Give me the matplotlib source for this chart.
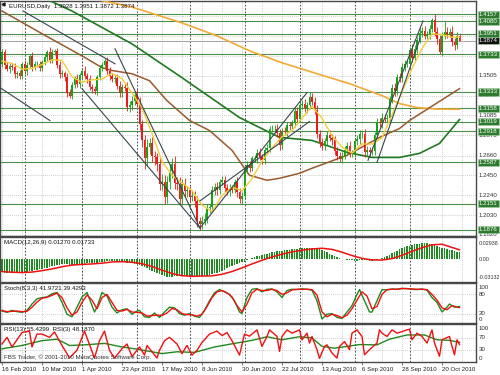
import numpy as np
import pandas as pd
import matplotlib
matplotlib.use("Agg")
import matplotlib.pyplot as plt
import matplotlib.transforms as mtransforms

plt.rcParams['font.family'] = ['Liberation Sans', 'DejaVu Sans']

# ---- EURUSD daily, 16 Feb 2010 .. 29 Oct 2010 ----
dates = pd.bdate_range("2010-02-16", periods=184)
first_open = 1.3630
closes = [
    1.3760, 1.3620, 1.3580, 1.3610, 1.3600, 1.3520, 1.3530, 1.3500, 1.3630, 1.3550,
    1.3620, 1.3710, 1.3600, 1.3630, 1.3630, 1.3590, 1.3650, 1.3700, 1.3760, 1.3670,
    1.3760, 1.3770, 1.3620, 1.3520, 1.3530, 1.3490, 1.3320, 1.3290, 1.3410, 1.3480,
    1.3420, 1.3510, 1.3560, 1.3500, 1.3470, 1.3390, 1.3360, 1.3340, 1.3490, 1.3590,
    1.3620, 1.3660, 1.3560, 1.3500, 1.3470, 1.3480, 1.3400, 1.3320, 1.3390, 1.3380,
    1.3170, 1.3200, 1.3240, 1.3300, 1.3210, 1.2990, 1.2820, 1.2630, 1.2750, 1.2790,
    1.2650, 1.2640, 1.2570, 1.2360, 1.2380, 1.2220, 1.2380, 1.2500, 1.2570, 1.2370,
    1.2360, 1.2200, 1.2360, 1.2280, 1.2290, 1.2220, 1.2230, 1.2180, 1.1970, 1.1930,
    1.1970, 1.1990, 1.2100, 1.2110, 1.2290, 1.2330, 1.2290, 1.2380, 1.2400, 1.2320,
    1.2280, 1.2310, 1.2300, 1.2380, 1.2270, 1.2200, 1.2230, 1.2520, 1.2560, 1.2530,
    1.2630, 1.2630, 1.2690, 1.2640, 1.2610, 1.2720, 1.2740, 1.2940, 1.2940, 1.2940,
    1.2900, 1.2770, 1.2920, 1.2910, 1.2980, 1.2970, 1.3000, 1.3130, 1.3050, 1.3190,
    1.3210, 1.3160, 1.3190, 1.3280, 1.3230, 1.3140, 1.2890, 1.2800, 1.2760, 1.2810,
    1.2880, 1.2850, 1.2820, 1.2710, 1.2660, 1.2620, 1.2660, 1.2720, 1.2760, 1.2680,
    1.2680, 1.2810, 1.2830, 1.2890, 1.2890, 1.2700, 1.2720, 1.2700, 1.2710, 1.2880,
    1.3020, 1.3000, 1.3060, 1.3050, 1.3060, 1.3260, 1.3380, 1.3340, 1.3490, 1.3480,
    1.3600, 1.3630, 1.3630, 1.3780, 1.3690, 1.3790, 1.3880, 1.3960, 1.3980, 1.3930,
    1.3940, 1.4000, 1.4100, 1.3970, 1.3890, 1.3760, 1.3930, 1.3970, 1.3950, 1.3970,
    1.3860, 1.3830, 1.3928, 1.3874]
# wick lengths above / below the body, in pips
upper_wick = [
    30, 25, 35, 30, 25, 40, 30, 35, 20, 40, 30, 25, 45, 30, 35, 30, 25, 30, 20, 45,
    25, 17, 30, 40, 35, 30, 45, 40, 30, 25, 40, 25, 30, 45, 35, 40, 30, 35, 20, 25,
    30, 30, 40, 35, 30, 35, 40, 45, 30, 35, 60, 40, 45, 30, 60, 70, 50, 60, 80, 60,
    70, 60, 50, 60, 80, 70, 60, 70, 60, 80, 60, 70, 50, 60, 45, 50, 60, 55, 50, 40,
    50, 60, 45, 40, 50, 40, 45, 35, 40, 45, 40, 45, 40, 35, 50, 45, 40, 30, 40, 45,
    30, 35, 40, 45, 35, 30, 40, 35, 45, 40, 50, 40, 35, 40, 35, 30, 40, 45, 40, 35,
    40, 45, 35, 53, 40, 50, 60, 45, 50, 40, 35, 45, 40, 50, 45, 40, 35, 40, 45, 50,
    40, 35, 45, 40, 35, 50, 40, 35, 45, 30, 40, 35, 45, 40, 35, 30, 40, 45, 35, 40,
    35, 45, 40, 30, 60, 40, 35, 45, 40, 50, 40, 45, 20, 57, 50, 45, 40, 110, 55, 40,
    60, 45, 40, 23]
lower_wick = [
    35, 40, 30, 45, 30, 35, 40, 30, 35, 30, 35, 30, 40, 35, 30, 40, 35, 30, 40, 35,
    30, 40, 35, 40, 30, 45, 40, 23, 35, 40, 30, 40, 35, 30, 45, 35, 40, 30, 40, 35,
    30, 40, 35, 45, 30, 40, 35, 40, 45, 35, 40, 45, 60, 50, 40, 60, 70, 110, 80, 70,
    60, 80, 70, 60, 70, 69, 60, 70, 80, 60, 70, 50, 60, 55, 60, 50, 45, 60, 70, 54,
    50, 45, 40, 45, 40, 50, 45, 40, 35, 45, 40, 45, 35, 40, 45, 40, 50, 30, 40, 45,
    35, 40, 45, 30, 40, 35, 40, 45, 35, 40, 45, 50, 40, 35, 40, 35, 30, 40, 45, 35,
    40, 35, 45, 40, 35, 45, 40, 50, 45, 40, 35, 40, 45, 40, 45, 33, 40, 35, 45, 40,
    35, 40, 35, 45, 40, 60, 40, 45, 35, 40, 35, 40, 45, 35, 40, 30, 40, 45, 35, 40,
    45, 40, 35, 40, 45, 35, 40, 30, 45, 40, 40, 45, 35, 40, 45, 27, 50, 40, 45, 35,
    40, 55, 45, 2]

# moving averages, sampled along the chart (bar index, price)
ma_fast_bar = [0, 4, 8, 12, 16, 20, 24, 28, 32, 36, 40, 44, 48, 52, 56, 60, 64, 68, 72, 76,
               80, 84, 88, 92, 96, 100, 104, 108, 112, 116, 120, 124, 128, 132, 136, 140,
               144, 148, 152, 156, 160, 164, 168, 172, 176, 180, 183]
ma_fast = [1.3660, 1.3634, 1.3574, 1.3583, 1.3623, 1.3674, 1.3666, 1.3494, 1.3435, 1.3461,
           1.3470, 1.3529, 1.3473, 1.3323, 1.3164, 1.2893, 1.2596, 1.2453, 1.2370, 1.2289,
           1.2134, 1.2068, 1.2236, 1.2326, 1.2286, 1.2415, 1.2601, 1.2739, 1.2859, 1.2924,
           1.3055, 1.3180, 1.3056, 1.2869, 1.2751, 1.2686, 1.2783, 1.2781, 1.2849, 1.3089,
           1.3333, 1.3580, 1.3793, 1.3948, 1.3940, 1.3913, 1.3914]
ma_brown_bar = [0, 16, 33, 40, 44, 52, 59, 66, 75, 83, 92, 99, 106, 111, 119, 124, 138, 151,
                159, 163, 183]
ma_brown = [1.4190, 1.3950, 1.3700, 1.3590, 1.3560, 1.3526, 1.3452, 1.3241, 1.3031, 1.2925,
            1.2715, 1.2451, 1.2398, 1.2419, 1.2472, 1.2525, 1.2662, 1.2852, 1.2946, 1.3031,
            1.3368]
ma_green_bar = [0, 15, 28, 52, 72, 95, 111, 124, 138, 148, 159, 167, 175, 183]
ma_green = [1.4450, 1.4350, 1.4190, 1.3842, 1.3484, 1.3062, 1.2852, 1.2820, 1.2693, 1.2640,
            1.2640, 1.2683, 1.2788, 1.3041]
ma_slow_bar = [0, 20, 40, 52, 72, 86, 99, 112, 126, 139, 152, 159, 166, 174, 183]
ma_slow = [1.4420, 1.4380, 1.4300, 1.4232, 1.4064, 1.3927, 1.3769, 1.3642, 1.3526, 1.3421,
           1.3294, 1.3210, 1.3168, 1.3152, 1.3150]

# trend lines: start bar, start price, end bar, end price
trend_x0 = [8.4, -0.8, 32.0, 45.2, 79.2, 79.2, 146.4, 150.0]
trend_y0 = [1.4190, 1.3379, 1.3368, 1.3790, 1.1892, 1.2180, 1.2609, 1.2588]
trend_x1 = [45.2, 19.2, 79.2, 79.2, 122.0, 123.0, 168.4, 167.2]
trend_y1 = [1.3631, 1.3030, 1.1892, 1.1892, 1.3326, 1.3020, 1.4085, 1.3895]

levels = [1.4157, 1.4080, 1.3951, 1.3733, 1.3333, 1.3158, 1.3019, 1.2918, 1.2587, 1.2151, 1.1876]
grid_prices = [1.1820, 1.2030, 1.2240, 1.2450, 1.2660, 1.2875, 1.3085, 1.3295, 1.3505,
               1.3715, 1.3925, 1.4135]
last_price = 1.3874

# MACD(12,26,9) main per bar, in 1e-4
macd_main = [
    -232, -234, -236, -237, -237, -236, -235, -233, -229, -225,
    -220, -213, -205, -196, -187, -178, -168, -158, -147, -136,
    -124, -112, -100, -92, -88, -86, -88, -92, -95, -94,
    -90, -85, -79, -74, -70, -67, -66, -65, -60, -54,
    -47, -40, -36, -34, -34, -36, -39, -42, -45, -48,
    -55, -62, -70, -78, -88, -100, -115, -135, -160, -185,
    -205, -225, -245, -265, -282, -296, -306, -313, -310, -303,
    -296, -291, -290, -291, -292, -293, -294, -296, -298, -302,
    -303, -298, -290, -278, -264, -250, -236, -222, -205, -185,
    -150, -132, -115, -98, -82, -66, -52, -38, -18, 2,
    20, 38, 54, 68, 82, 94, 106, 116, 126, 136,
    144, 150, 156, 162, 168, 174, 180, 186, 192, 198,
    203, 207, 210, 212, 212, 210, 205, 190, 170, 148,
    126, 104, 82, 62, 44, 28, 14, 2, -8, -14,
    -18, -20, -20, -18, -14, -14, -18, -20, -20, -16,
    -8, 4, 20, 40, 62, 86, 110, 134, 158, 182,
    200, 218, 234, 248, 260, 270, 278, 285, 291, 294,
    290, 282, 272, 259, 242, 224, 210, 198, 186, 174,
    162, 150, 139, 127]
macd_sig_bar = [0, 4, 8, 12, 16, 20, 24, 28, 32, 36, 40, 44, 48, 52, 56, 60, 64, 68, 72, 76,
                80, 84, 88, 92, 96, 100, 104, 108, 112, 116, 120, 124, 128, 132, 136, 140,
                144, 148, 152, 156, 160, 164, 168, 172, 176, 180, 183]
macd_sig = [-215, -228, -234, -225, -200, -168, -130, -100, -88, -80, -66, -45, -38, -50,
            -75, -125, -190, -250, -290, -300, -296, -292, -265, -215, -150, -80, -15, 45,
            95, 135, 165, 188, 200, 180, 130, 70, 20, -8, -10, 15, 75, 145, 210, 262, 272,
            215, 173]

# Stochastic(8,3,3)
stoch_k_bar = [0, 2, 4, 6, 8, 10, 12, 14, 16, 18, 20, 22, 24, 26, 28, 30, 32, 34, 36, 37,
               38, 40, 42, 44, 46, 48, 50, 52, 54, 55, 57, 59, 61, 63, 65, 67, 69, 71, 73, 75,
               77, 79, 81, 83, 85, 87, 89, 91, 93, 95, 96, 98, 100, 102, 104, 106, 108, 110,
               112, 114, 116, 118, 120, 122, 124, 126, 128, 130, 132, 134, 136, 138, 140,
               142, 143, 145, 147, 148, 150, 152, 154, 156, 158, 160, 162, 164, 166, 168,
               170, 172, 174, 176, 178, 179, 181, 183]
stoch_k = [28, 24, 30, 26, 24, 30, 50, 66, 70, 72, 82, 86, 55, 18, 10, 40, 72, 86, 45, 25,
           40, 86, 75, 40, 22, 32, 35, 18, 28, 30, 10, 8, 22, 8, 25, 40, 38, 20, 15, 20,
           12, 8, 30, 60, 85, 95, 88, 80, 60, 25, 20, 70, 96, 98, 88, 96, 97, 88,
           70, 92, 96, 95, 97, 96, 93, 60, 3, 18, 20, 8, 5, 25, 45,
           80, 95, 60, 25, 25, 60, 95, 94, 97, 96, 99, 98, 96, 95, 97,
           93, 70, 55, 25, 40, 50, 40, 42]
stoch_d_bar = [0, 2, 4, 6, 8, 10, 12, 14, 16, 18, 20, 22, 24, 26, 28, 30, 32, 34, 36, 38,
               40, 42, 44, 46, 48, 50, 52, 54, 56, 58, 60, 62, 64, 66, 68, 70, 72, 74, 76, 78,
               80, 82, 84, 86, 88, 90, 92, 94, 96, 98, 100, 102, 104, 106, 108, 110, 112,
               114, 116, 118, 120, 122, 124, 126, 128, 130, 132, 134, 136, 138, 140, 142,
               144, 146, 148, 150, 152, 154, 156, 158, 160, 162, 164, 166, 168, 170, 172,
               174, 176, 178, 180, 182, 183]
stoch_d = [30, 26, 27, 28, 26, 27, 40, 56, 68, 71, 77, 84, 70, 38, 15, 25, 55, 78, 62, 35,
           70, 80, 55, 30, 28, 33, 25, 24, 22, 12, 14, 15, 14, 22, 36, 32, 20, 17, 16, 12,
           18, 42, 70, 88, 92, 85, 72, 45, 25, 50, 85, 96, 92, 92, 96, 92, 80,
           85, 94, 96, 96, 96, 95, 78, 25, 10, 18, 14, 7, 15, 35, 62,
           88, 75, 35, 42, 80, 95, 96, 96, 98, 98, 97, 96, 96, 95, 80,
           62, 38, 32, 45, 40, 39]

# RSI(13) and RSI(3)
rsi13_bar = [0, 8, 16, 22, 27, 33, 41, 48, 53, 60, 64, 70, 77, 85, 93, 100, 106, 112, 119,
             124, 128, 133, 138, 143, 150, 155, 162, 169, 174, 179, 183]
rsi13 = [34, 45, 61, 66, 45, 47, 52, 40, 34, 24, 18, 24, 22, 40, 52, 62, 74, 64, 74,
         70, 42, 36, 42, 48, 47, 66, 80, 80, 64, 62, 55.4]
rsi3_bar = [0, 2, 4, 8, 11, 12, 14, 16, 19, 21, 24, 27, 30, 33, 37, 39, 41, 43, 45, 48,
            50, 52, 55, 57, 58, 62, 63, 65, 67, 70, 72, 74, 76, 78, 80, 83, 86, 88, 90, 92,
            95, 97, 99, 102, 104, 106, 107, 110, 111, 112, 114, 116, 119, 120, 122, 123,
            124, 126, 127, 129, 130, 132, 134, 135, 137, 139, 140, 142, 144, 145, 147, 150,
            151, 152, 154, 156, 158, 160, 162, 163, 164, 166, 168, 170, 172, 173, 175, 176,
            179, 180, 181, 182, 183]
rsi3 = [50, 72, 40, 88, 93, 40, 83, 83, 72, 90, 45, 4, 29, 93, 3, 61, 93, 29, 3, 34,
        50, 8, 40, 13, 45, 3, 29, 61, 72, 50, 18, 45, 13, 29, 55, 83, 93, 78, 88, 61,
        13, 83, 76, 97, 42, 75, 97, 75, 25, 75, 97, 86, 97, 64, 86, 53,
        75, 31, 2, 42, 47, 20, 3, 42, 58, 31, 86, 97, 75, 14, 31, 53,
        97, 86, 75, 97, 86, 91, 97, 99, 64, 86, 75, 53, 97, 53, 9, 64,
        75, 42, 14, 64, 48]

# ---------------- figure ----------------
closes = np.array(closes)
opens = np.r_[first_open, closes[:-1]]
highs = np.maximum(opens, closes) + np.array(upper_wick) * 1e-4
lows = np.minimum(opens, closes) - np.array(lower_wick) * 1e-4
bars = np.arange(len(closes))

fig = plt.figure(figsize=(5, 3.75), dpi=100)
W = 476 / 500
ax = fig.add_axes([0.0, 1 - 236 / 375, W, 235 / 375])
ax_macd = fig.add_axes([0.0, 1 - 282 / 375, W, 45 / 375])
ax_st = fig.add_axes([0.0, 1 - 323 / 375, W, 40 / 375])
ax_rsi = fig.add_axes([0.0, 1 - 362 / 375, W, 38 / 375])
panels = [ax, ax_macd, ax_st, ax_rsi]

FS = 4.4
GRID = '#b4b4b4'
LVL = '#4a8f4a'
BOXG = '#2e7a2e'

for a in panels:
    a.set_xlim(-0.8, 189.6)
    a.set_xticks([])
    a.set_yticks([])
    for s in a.spines.values():
        s.set_color('#484848')
        s.set_linewidth(1.0)
    # 8-bar grid and monthly period separators
    for b in range(0, 190, 8):
        a.axvline(b, color=GRID, lw=0.5, ls=(0, (1.2, 1.6)), zorder=0)
    for i in range(1, len(dates)):
        if dates[i].month != dates[i - 1].month:
            a.axvline(i, color='#303030', lw=0.6, ls=(0, (2, 2)), zorder=0.5)


def rlabel(a, y, s, box=None, color='#303030', fs=FS):
    tr = mtransforms.blended_transform_factory(a.transAxes, a.transData)
    if box:
        a.text(1.006, y, s, transform=tr, fontsize=fs, color='white', va='center',
               ha='left', zorder=10,
               bbox=dict(boxstyle='square,pad=0.18', fc=box, ec='#9fcf9f', lw=0.4))
    else:
        a.text(1.006, y, s, transform=tr, fontsize=fs, color=color, va='center',
               ha='left', zorder=5)


# --- main price panel ---
ax.set_ylim(1.1808, 1.4296)
boxed = levels + [last_price]
for p in grid_prices:
    ax.axhline(p, color=GRID, lw=0.5, ls=(0, (1.2, 1.6)), zorder=0)
    # the terminal hides scale labels that sit under a level box
    if min(abs(p - q) for q in boxed) > 0.0032:
        rlabel(ax, p, f"{p:.4f}")
for p in levels:
    ax.axhline(p, color=LVL, lw=0.8, zorder=1)
    rlabel(ax, p, f"{p:.4f}", box=BOXG)
ax.axhline(last_price, color='#a8a8a8', lw=0.8, zorder=1)
rlabel(ax, last_price, f"{last_price:.4f}", box='#101010')

ax.plot(ma_slow_bar, ma_slow, color='#f3a935', lw=1.2, zorder=3)
ax.plot(ma_green_bar, ma_green, color='#1f7a1f', lw=1.2, zorder=3)
ax.plot(ma_brown_bar, ma_brown, color='#9a5a2e', lw=1.1, zorder=3)

up = closes >= opens
col = np.where(up, '#18a018', '#f01818')
ax.vlines(bars, lows, highs, colors=col, lw=0.6, zorder=4)
ax.bar(bars, np.maximum(np.abs(closes - opens), 0.0003), bottom=np.minimum(opens, closes),
       width=0.72, color=col, lw=0, zorder=4)
ax.plot(ma_fast_bar, ma_fast, color='#f6cc3a', lw=1.0, zorder=5)

for x0, y0, x1, y1 in zip(trend_x0, trend_y0, trend_x1, trend_y1):
    ax.plot([x0, x1], [y0, y1], color='#37474f', lw=0.8, zorder=6)

ax.plot([0.4], [1.4262], marker='<', ms=2.2, color='#202020', zorder=7)
ax.text(0.018, 0.988, "EURUSD,Daily  1.3928 1.3951 1.3872 1.3874", transform=ax.transAxes,
        fontsize=FS, va='top', ha='left', color='#101010', zorder=8)

# --- MACD ---
ax_macd.set_ylim(-0.0402, 0.0401)
ax_macd.bar(bars, np.array(macd_main) * 1e-4, width=0.55, color='#1f8a1f', lw=0, zorder=2)
ax_macd.plot(macd_sig_bar, np.array(macd_sig) * 1e-4, color='#f01010', lw=1.1, zorder=3)
for v, s in [(0.02938, "0.02938"), (0.0, "0.00"), (-0.03132, "-0.03132")]:
    rlabel(ax_macd, v, s, fs=FS - 0.5)
ax_macd.text(0.008, 0.93, "MACD(12,26,9) 0.01270 0.01733", transform=ax_macd.transAxes,
             fontsize=FS, va='top', ha='left', color='#101010')

# --- Stochastic ---
ax_st.set_ylim(-9.4, 115.6)
for v in (80, 20):
    ax_st.axhline(v, color=GRID, lw=0.5, ls=(0, (1.2, 1.6)), zorder=0)
ax_st.plot(stoch_k_bar, stoch_k, color='#1f8a1f', lw=1.0, zorder=3)
ax_st.plot(stoch_d_bar, stoch_d, color='#f01010', lw=1.0, zorder=3)
for v in (100, 80, 20, 0):
    rlabel(ax_st, v, str(v))
ax_st.text(0.008, 0.93, "Stoch(8,3,3) 41.9721 39.4293", transform=ax_st.transAxes,
           fontsize=FS, va='top', ha='left', color='#101010')

# --- RSI ---
ax_rsi.set_ylim(-10, 116.5)
for v in (70, 30):
    ax_rsi.axhline(v, color=GRID, lw=0.5, ls=(0, (1.2, 1.6)), zorder=0)
ax_rsi.plot(rsi13_bar, rsi13, color='#1f8a1f', lw=1.0, zorder=3)
ax_rsi.plot(rsi3_bar, rsi3, color='#f01010', lw=1.0, zorder=4)
for v in (100, 70, 30, 0):
    rlabel(ax_rsi, v, str(v))
ax_rsi.text(0.008, 0.93, "RSI(13) 55.4299  RSI(3) 48.1870", transform=ax_rsi.transAxes,
            fontsize=FS, va='top', ha='left', color='#101010')
ax_rsi.text(0.008, 0.05, "FBS Trader, \u00a9 2001-2010 MetaQuotes Software Corp.",
            transform=ax_rsi.transAxes, fontsize=FS, va='bottom', ha='left', color='#303030',
            zorder=6)

tick_bars = list(range(0, 184, 16))
ax_rsi.set_xticks(tick_bars)
ax_rsi.set_xticklabels([f"{dates[i].day} {dates[i]:%b %Y}" for i in tick_bars],
                       fontsize=FS, ha='left', color='#202020')
ax_rsi.tick_params(axis='x', length=2, width=0.5, pad=1.5, color='#404040')

fig.savefig("out.png", dpi=100, facecolor='white')
